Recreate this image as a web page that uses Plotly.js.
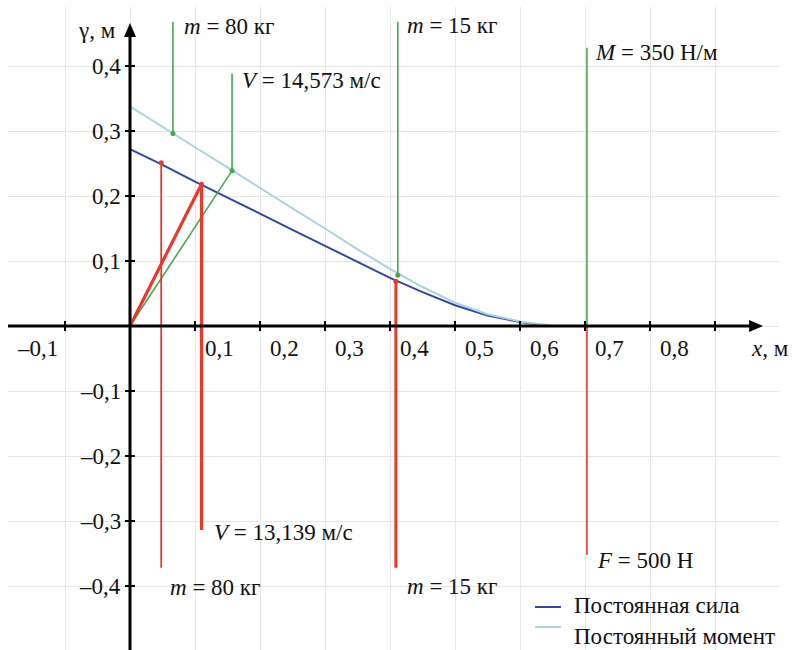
<!DOCTYPE html>
<html><head><meta charset="utf-8">
<script src="https://cdn.plot.ly/plotly-3.0.1.min.js"></script>
<style>html,body{margin:0;padding:0;background:#fff}#chart{width:792px;height:650px}</style>
</head><body><div id="chart"></div>
<script>
// ---- data ----
const forceX  = [0, 0.05, 0.1, 0.15, 0.2, 0.25, 0.3, 0.35, 0.4, 0.45, 0.5, 0.55, 0.6, 0.63];
const forceY  = [0.272, 0.248, 0.222, 0.198, 0.173, 0.148, 0.123, 0.099, 0.074, 0.052, 0.032, 0.016, 0.006, 0.002];
const momentX = [0, 0.05, 0.1, 0.15, 0.2, 0.25, 0.3, 0.35, 0.4, 0.45, 0.5, 0.55, 0.6, 0.645];
const momentY = [0.338, 0.306, 0.275, 0.244, 0.212, 0.181, 0.150, 0.118, 0.088, 0.060, 0.036, 0.018, 0.007, 0.001];

const greenX      = [0.066, 0.157, 0.412, 0.703];
const greenTop    = [0.468, 0.388, 0.468, 0.428];
const greenBottom = [0.296, 0.239, 0.078, 0];
const redX        = [0.048, 0.110, 0.409, 0.703];
const redTop      = [0.251, 0.218, 0.069, 0];
const redBottom   = [-0.372, -0.314, -0.372, -0.352];

const seriesNames = ['Постоянная сила', 'Постоянный момент'];
const greenLabels = ['<i>m</i> = 80 кг', '<i>V</i> = 14,573 м/с', '<i>m</i> = 15 кг', '<i>M</i> = 350 Н/м'];
const redLabels   = ['<i>m</i> = 80 кг', '<i>V</i> = 13,139 м/с', '<i>m</i> = 15 кг', '<i>F</i> = 500 Н'];

const xGrid = [-0.1, 0, 0.1, 0.2, 0.3, 0.4, 0.5, 0.6, 0.7, 0.8, 0.9];
const yGrid = [-0.4, -0.3, -0.2, -0.1, 0, 0.1, 0.2, 0.3, 0.4];
const xTickVals = [-0.1, 0.1, 0.2, 0.3, 0.4, 0.5, 0.6, 0.7, 0.8];
const xTickText = ['–0,1', '0,1', '0,2', '0,3', '0,4', '0,5', '0,6', '0,7', '0,8'];
const yTickVals = [0.4, 0.3, 0.2, 0.1, -0.1, -0.2, -0.3, -0.4];
const yTickText = ['0,4', '0,3', '0,2', '0,1', '–0,1', '–0,2', '–0,3', '–0,4'];

// ---- styles ----
const FONT = '"Liberation Serif", "Times New Roman", Times, serif';
const FS = 23;
const GREEN = '#45a84f', RED = '#e8392b', BLUE = '#3447a6', LBLUE = '#a9d4de';
const greenW = [1.6, 1.6, 1.6, 1.6];
const redW = [1.8, 3.2, 3, 1.6];
const seriesColors = [BLUE, LBLUE];

const traces = [];
traces.push({x: forceX, y: forceY, mode: 'lines', name: seriesNames[0], line: {color: BLUE, width: 2}, showlegend: false});
traces.push({x: momentX, y: momentY, mode: 'lines', name: seriesNames[1], line: {color: LBLUE, width: 2}, showlegend: false});

// diagonals from origin
traces.push({x: [0, greenX[1]], y: [0, greenBottom[1]], mode: 'lines', line: {color: GREEN, width: 1.6}, showlegend: false, hoverinfo: 'skip'});
traces.push({x: [0, redX[1]], y: [0, redTop[1]], mode: 'lines', line: {color: RED, width: 3.2}, showlegend: false, hoverinfo: 'skip'});

for (let i = 0; i < greenX.length; i++) {
  traces.push({x: [greenX[i], greenX[i]], y: [greenBottom[i], greenTop[i]], mode: 'lines', line: {color: GREEN, width: greenW[i]}, showlegend: false, hoverinfo: 'skip'});
}
for (let i = 0; i < redX.length; i++) {
  traces.push({x: [redX[i], redX[i]], y: [redBottom[i], redTop[i]], mode: 'lines', line: {color: RED, width: redW[i]}, showlegend: false, hoverinfo: 'skip'});
}
traces.push({x: greenX.slice(0, 3), y: greenBottom.slice(0, 3), mode: 'markers', marker: {color: GREEN, size: 5}, showlegend: false, hoverinfo: 'skip'});
traces.push({x: redX.slice(0, 3), y: redTop.slice(0, 3), mode: 'markers', marker: {color: RED, size: 5}, showlegend: false, hoverinfo: 'skip'});

const XMIN = -122 / 650, XMAX = XMIN + 771 / 650;
const YMAX = 319 / 650, YMIN = YMAX - 643 / 650;
const px2x = p => (p - 130) / 650, py2y = p => (326 - p) / 650;

const shapes = [];
// axes
shapes.push({type: 'line', xref: 'x', yref: 'y', x0: XMIN, x1: 0.962, y0: 0, y1: 0, line: {color: '#000', width: 3}, layer: 'above'});
shapes.push({type: 'line', xref: 'x', yref: 'y', x0: 0, x1: 0, y0: YMIN, y1: 0.45, line: {color: '#000', width: 3}, layer: 'above'});
shapes.push({type: 'path', xref: 'x', yref: 'y', xsizemode: 'pixel', ysizemode: 'pixel', xanchor: 0.974, yanchor: 0,
  path: 'M0,0 L-14,6 L-14,-6 Z', fillcolor: '#000', line: {width: 0}, layer: 'above'});
shapes.push({type: 'path', xref: 'x', yref: 'y', xsizemode: 'pixel', ysizemode: 'pixel', xanchor: 0, yanchor: 0.466,
  path: 'M0,0 L-6,-14 L6,-14 Z', fillcolor: '#000', line: {width: 0}, layer: 'above'});
xGrid.filter(v => v !== 0).forEach(v => shapes.push({type: 'line', xref: 'x', yref: 'y', ysizemode: 'pixel', yanchor: 0,
  x0: v, x1: v, y0: -5, y1: 5, line: {color: '#000', width: 2}, layer: 'above'}));
yGrid.filter(v => v !== 0).forEach(v => shapes.push({type: 'line', xref: 'x', yref: 'y', xsizemode: 'pixel', xanchor: 0,
  y0: v, y1: v, x0: -5, x1: 5, line: {color: '#000', width: 2}, layer: 'above'}));

const ann = [];
const tf = {family: FONT, size: FS, color: '#111'};
xTickVals.forEach((v, i) => ann.push({x: v, y: 0, xref: 'x', yref: 'y', text: xTickText[i], showarrow: false,
  xanchor: v < 0 ? 'right' : 'left', yanchor: 'middle', xshift: v < 0 ? -5 : 8, yshift: -22, font: tf}));
yTickVals.forEach((v, i) => ann.push({x: 0, y: v, xref: 'x', yref: 'y', text: yTickText[i], showarrow: false,
  xanchor: 'right', yanchor: 'middle', xshift: -7, font: tf}));
ann.push({x: 0, y: 0.455, xref: 'x', yref: 'y', text: 'γ, м', showarrow: false, xanchor: 'right', yanchor: 'middle', xshift: -12, font: tf});
ann.push({x: 0.952, y: 0, xref: 'x', yref: 'y', text: '<i>x</i>, м', showarrow: false, xanchor: 'left', yanchor: 'middle', yshift: -22, font: tf});

// value labels next to the lines
const gPos = [[0.080, 0.4615], [0.169, 0.378], [0.423, 0.463], [0.712, 0.4215]];
const rPos = [[0.058, -0.403], [0.126, -0.318], [0.423, -0.4015], [0.715, -0.36]];
gPos.forEach((p, i) => ann.push({x: p[0], y: p[1], xref: 'x', yref: 'y', text: greenLabels[i], showarrow: false, xanchor: 'left', yanchor: 'middle', font: tf}));
rPos.forEach((p, i) => ann.push({x: p[0], y: p[1], xref: 'x', yref: 'y', text: redLabels[i], showarrow: false, xanchor: 'left', yanchor: 'middle', font: tf}));

// legend (drawn by hand to match the reference spacing)
const legLineY = [607, 627], legTextY = [605, 636];
seriesNames.forEach((name, i) => {
  shapes.push({type: 'line', xref: 'x', yref: 'y', x0: px2x(535), x1: px2x(561), y0: py2y(legLineY[i]), y1: py2y(legLineY[i]),
    line: {color: seriesColors[i], width: 2}, layer: 'above'});
  ann.push({x: px2x(572), y: py2y(legTextY[i]), xref: 'x', yref: 'y', text: name, showarrow: false, xanchor: 'left', yanchor: 'middle',
    font: {family: FONT, size: 23, color: '#111'}});
});

const layout = {
  width: 792, height: 650,
  margin: {l: 8, r: 13, t: 7, b: 0, autoexpand: false},
  paper_bgcolor: '#fff', plot_bgcolor: '#fff',
  xaxis: {range: [XMIN, XMAX], tickmode: 'array', tickvals: xGrid, showticklabels: false, ticks: '',
    showgrid: true, gridcolor: '#e6e6e6', gridwidth: 1, zeroline: false, showline: false, fixedrange: true},
  yaxis: {range: [YMIN, YMAX], tickmode: 'array', tickvals: yGrid, showticklabels: false, ticks: '',
    showgrid: true, gridcolor: '#e6e6e6', gridwidth: 1, zeroline: false, showline: false, fixedrange: true},
  showlegend: false,
  shapes: shapes,
  annotations: ann
};
Plotly.newPlot('chart', traces, layout, {displayModeBar: false, staticPlot: true});
</script>
</body></html>
